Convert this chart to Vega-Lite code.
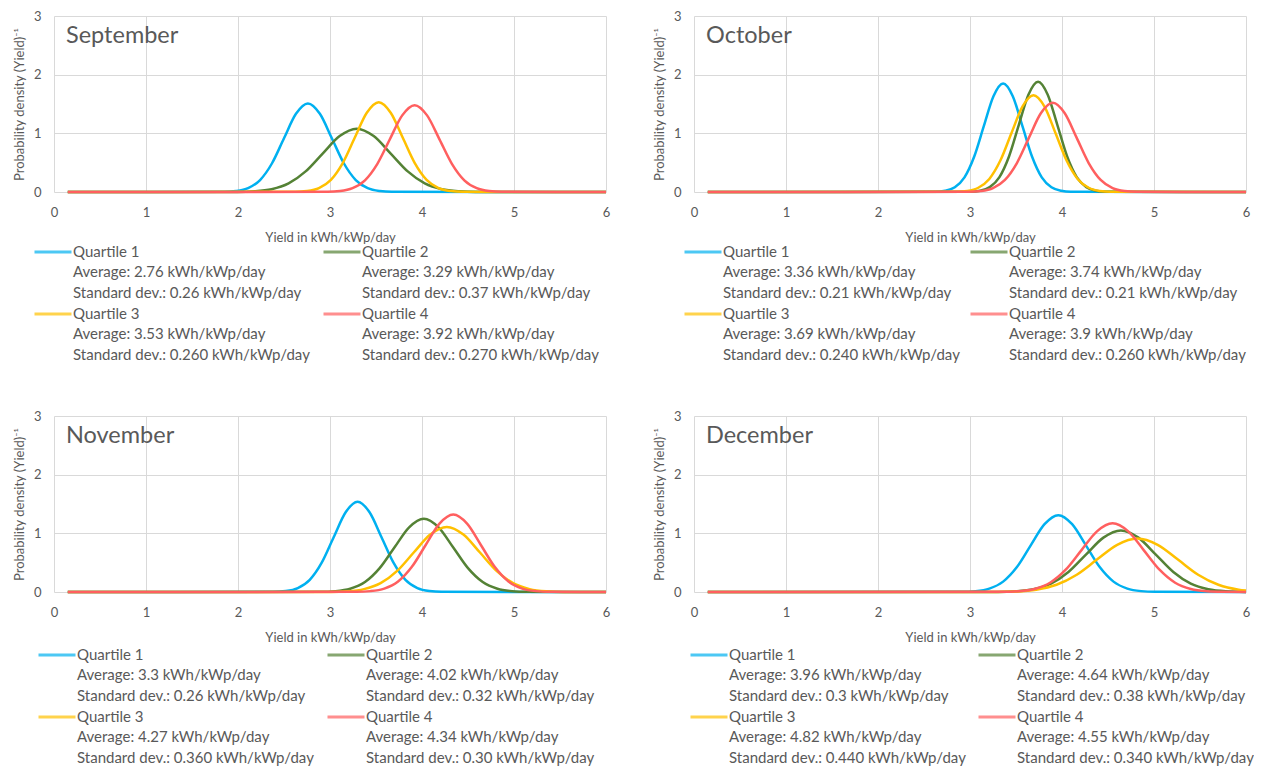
{
  "$schema": "https://vega.github.io/schema/vega-lite/v6.json",
  "padding": {"left": 13, "top": 10, "right": 0, "bottom": 0},
  "background": "white",
  "config": {
    "font": "Lato",
    "view": {"stroke": null},
    "axis": {"domain": false, "ticks": false, "gridColor": "#D9D9D9", "gridWidth": 1, "labelColor": "#595959", "titleColor": "#595959", "labelFont": "Lato", "titleFont": "Lato", "labelFontSize": 13, "titleFontSize": 13, "titleFontWeight": "normal"},
    "title": {"font": "Lato", "fontSize": 23.5, "fontWeight": "normal", "color": "#595959", "anchor": "start", "frame": "group", "orient": "top", "baseline": "top", "offset": -37, "dx": 12},
    "line": {"interpolate": "monotone", "strokeWidth": 2.5, "clip": true},
    "text": {"font": "Lato", "fontSize": 15, "color": "#595959", "align": "left", "baseline": "alphabetic", "lineBreak": "\n", "lineHeight": 20.4}
  },
  "datasets": {
    "sep": [
      {"q":"Quartile 1","x":0.15,"y":0},{"q":"Quartile 1","x":1.85,"y":0.003},{"q":"Quartile 1","x":1.98,"y":0.017},{"q":"Quartile 1","x":2.11,"y":0.066},{"q":"Quartile 1","x":2.24,"y":0.204},{"q":"Quartile 1","x":2.37,"y":0.49},{"q":"Quartile 1","x":2.5,"y":0.916},{"q":"Quartile 1","x":2.63,"y":1.333},{"q":"Quartile 1","x":2.76,"y":1.51},{"q":"Quartile 1","x":2.89,"y":1.333},{"q":"Quartile 1","x":3.02,"y":0.916},{"q":"Quartile 1","x":3.15,"y":0.49},{"q":"Quartile 1","x":3.28,"y":0.204},{"q":"Quartile 1","x":3.41,"y":0.066},{"q":"Quartile 1","x":3.54,"y":0.017},{"q":"Quartile 1","x":3.67,"y":0.003},{"q":"Quartile 1","x":6,"y":0},
      {"q":"Quartile 2","x":0.15,"y":0},{"q":"Quartile 2","x":1.995,"y":0.002},{"q":"Quartile 2","x":2.18,"y":0.012},{"q":"Quartile 2","x":2.365,"y":0.047},{"q":"Quartile 2","x":2.55,"y":0.146},{"q":"Quartile 2","x":2.735,"y":0.351},{"q":"Quartile 2","x":2.92,"y":0.655},{"q":"Quartile 2","x":3.105,"y":0.953},{"q":"Quartile 2","x":3.29,"y":1.08},{"q":"Quartile 2","x":3.475,"y":0.953},{"q":"Quartile 2","x":3.66,"y":0.655},{"q":"Quartile 2","x":3.845,"y":0.351},{"q":"Quartile 2","x":4.03,"y":0.146},{"q":"Quartile 2","x":4.215,"y":0.047},{"q":"Quartile 2","x":4.4,"y":0.012},{"q":"Quartile 2","x":4.585,"y":0.002},{"q":"Quartile 2","x":6,"y":0},
      {"q":"Quartile 3","x":0.15,"y":0},{"q":"Quartile 3","x":2.62,"y":0.003},{"q":"Quartile 3","x":2.75,"y":0.017},{"q":"Quartile 3","x":2.88,"y":0.067},{"q":"Quartile 3","x":3.01,"y":0.207},{"q":"Quartile 3","x":3.14,"y":0.497},{"q":"Quartile 3","x":3.27,"y":0.928},{"q":"Quartile 3","x":3.4,"y":1.35},{"q":"Quartile 3","x":3.53,"y":1.53},{"q":"Quartile 3","x":3.66,"y":1.35},{"q":"Quartile 3","x":3.79,"y":0.928},{"q":"Quartile 3","x":3.92,"y":0.497},{"q":"Quartile 3","x":4.05,"y":0.207},{"q":"Quartile 3","x":4.18,"y":0.067},{"q":"Quartile 3","x":4.31,"y":0.017},{"q":"Quartile 3","x":4.44,"y":0.003},{"q":"Quartile 3","x":6,"y":0},
      {"q":"Quartile 4","x":0.15,"y":0},{"q":"Quartile 4","x":2.975,"y":0.003},{"q":"Quartile 4","x":3.11,"y":0.016},{"q":"Quartile 4","x":3.245,"y":0.065},{"q":"Quartile 4","x":3.38,"y":0.2},{"q":"Quartile 4","x":3.515,"y":0.481},{"q":"Quartile 4","x":3.65,"y":0.898},{"q":"Quartile 4","x":3.785,"y":1.306},{"q":"Quartile 4","x":3.92,"y":1.48},{"q":"Quartile 4","x":4.055,"y":1.306},{"q":"Quartile 4","x":4.19,"y":0.898},{"q":"Quartile 4","x":4.325,"y":0.481},{"q":"Quartile 4","x":4.46,"y":0.2},{"q":"Quartile 4","x":4.595,"y":0.065},{"q":"Quartile 4","x":4.73,"y":0.016},{"q":"Quartile 4","x":4.865,"y":0.003},{"q":"Quartile 4","x":6,"y":0}
    ],
    "oct": [
      {"q":"Quartile 1","x":0.15,"y":0},{"q":"Quartile 1","x":2.625,"y":0.004},{"q":"Quartile 1","x":2.73,"y":0.021},{"q":"Quartile 1","x":2.835,"y":0.081},{"q":"Quartile 1","x":2.94,"y":0.25},{"q":"Quartile 1","x":3.045,"y":0.601},{"q":"Quartile 1","x":3.15,"y":1.122},{"q":"Quartile 1","x":3.255,"y":1.633},{"q":"Quartile 1","x":3.36,"y":1.85},{"q":"Quartile 1","x":3.465,"y":1.633},{"q":"Quartile 1","x":3.57,"y":1.122},{"q":"Quartile 1","x":3.675,"y":0.601},{"q":"Quartile 1","x":3.78,"y":0.25},{"q":"Quartile 1","x":3.885,"y":0.081},{"q":"Quartile 1","x":3.99,"y":0.021},{"q":"Quartile 1","x":4.095,"y":0.004},{"q":"Quartile 1","x":6,"y":0},
      {"q":"Quartile 2","x":0.15,"y":0},{"q":"Quartile 2","x":3.005,"y":0.004},{"q":"Quartile 2","x":3.11,"y":0.021},{"q":"Quartile 2","x":3.215,"y":0.083},{"q":"Quartile 2","x":3.32,"y":0.254},{"q":"Quartile 2","x":3.425,"y":0.61},{"q":"Quartile 2","x":3.53,"y":1.14},{"q":"Quartile 2","x":3.635,"y":1.659},{"q":"Quartile 2","x":3.74,"y":1.88},{"q":"Quartile 2","x":3.845,"y":1.659},{"q":"Quartile 2","x":3.95,"y":1.14},{"q":"Quartile 2","x":4.055,"y":0.61},{"q":"Quartile 2","x":4.16,"y":0.254},{"q":"Quartile 2","x":4.265,"y":0.083},{"q":"Quartile 2","x":4.37,"y":0.021},{"q":"Quartile 2","x":4.475,"y":0.004},{"q":"Quartile 2","x":6,"y":0},
      {"q":"Quartile 3","x":0.15,"y":0},{"q":"Quartile 3","x":2.85,"y":0.004},{"q":"Quartile 3","x":2.97,"y":0.018},{"q":"Quartile 3","x":3.09,"y":0.072},{"q":"Quartile 3","x":3.21,"y":0.223},{"q":"Quartile 3","x":3.33,"y":0.536},{"q":"Quartile 3","x":3.45,"y":1.001},{"q":"Quartile 3","x":3.57,"y":1.456},{"q":"Quartile 3","x":3.69,"y":1.65},{"q":"Quartile 3","x":3.81,"y":1.456},{"q":"Quartile 3","x":3.93,"y":1.001},{"q":"Quartile 3","x":4.05,"y":0.536},{"q":"Quartile 3","x":4.17,"y":0.223},{"q":"Quartile 3","x":4.29,"y":0.072},{"q":"Quartile 3","x":4.41,"y":0.018},{"q":"Quartile 3","x":4.53,"y":0.004},{"q":"Quartile 3","x":6,"y":0},
      {"q":"Quartile 4","x":0.15,"y":0},{"q":"Quartile 4","x":2.99,"y":0.003},{"q":"Quartile 4","x":3.12,"y":0.017},{"q":"Quartile 4","x":3.25,"y":0.067},{"q":"Quartile 4","x":3.38,"y":0.206},{"q":"Quartile 4","x":3.51,"y":0.494},{"q":"Quartile 4","x":3.64,"y":0.922},{"q":"Quartile 4","x":3.77,"y":1.341},{"q":"Quartile 4","x":3.9,"y":1.52},{"q":"Quartile 4","x":4.03,"y":1.341},{"q":"Quartile 4","x":4.16,"y":0.922},{"q":"Quartile 4","x":4.29,"y":0.494},{"q":"Quartile 4","x":4.42,"y":0.206},{"q":"Quartile 4","x":4.55,"y":0.067},{"q":"Quartile 4","x":4.68,"y":0.017},{"q":"Quartile 4","x":4.81,"y":0.003},{"q":"Quartile 4","x":6,"y":0}
    ],
    "nov": [
      {"q":"Quartile 1","x":0.15,"y":0},{"q":"Quartile 1","x":2.39,"y":0.003},{"q":"Quartile 1","x":2.52,"y":0.017},{"q":"Quartile 1","x":2.65,"y":0.068},{"q":"Quartile 1","x":2.78,"y":0.208},{"q":"Quartile 1","x":2.91,"y":0.5},{"q":"Quartile 1","x":3.04,"y":0.934},{"q":"Quartile 1","x":3.17,"y":1.359},{"q":"Quartile 1","x":3.3,"y":1.54},{"q":"Quartile 1","x":3.43,"y":1.359},{"q":"Quartile 1","x":3.56,"y":0.934},{"q":"Quartile 1","x":3.69,"y":0.5},{"q":"Quartile 1","x":3.82,"y":0.208},{"q":"Quartile 1","x":3.95,"y":0.068},{"q":"Quartile 1","x":4.08,"y":0.017},{"q":"Quartile 1","x":4.21,"y":0.003},{"q":"Quartile 1","x":6,"y":0},
      {"q":"Quartile 2","x":0.15,"y":0},{"q":"Quartile 2","x":2.9,"y":0.003},{"q":"Quartile 2","x":3.06,"y":0.014},{"q":"Quartile 2","x":3.22,"y":0.055},{"q":"Quartile 2","x":3.38,"y":0.169},{"q":"Quartile 2","x":3.54,"y":0.406},{"q":"Quartile 2","x":3.7,"y":0.758},{"q":"Quartile 2","x":3.86,"y":1.103},{"q":"Quartile 2","x":4.02,"y":1.25},{"q":"Quartile 2","x":4.18,"y":1.103},{"q":"Quartile 2","x":4.34,"y":0.758},{"q":"Quartile 2","x":4.5,"y":0.406},{"q":"Quartile 2","x":4.66,"y":0.169},{"q":"Quartile 2","x":4.82,"y":0.055},{"q":"Quartile 2","x":4.98,"y":0.014},{"q":"Quartile 2","x":5.14,"y":0.003},{"q":"Quartile 2","x":6,"y":0},
      {"q":"Quartile 3","x":0.15,"y":0},{"q":"Quartile 3","x":3.01,"y":0.002},{"q":"Quartile 3","x":3.19,"y":0.012},{"q":"Quartile 3","x":3.37,"y":0.049},{"q":"Quartile 3","x":3.55,"y":0.15},{"q":"Quartile 3","x":3.73,"y":0.36},{"q":"Quartile 3","x":3.91,"y":0.673},{"q":"Quartile 3","x":4.09,"y":0.98},{"q":"Quartile 3","x":4.27,"y":1.11},{"q":"Quartile 3","x":4.45,"y":0.98},{"q":"Quartile 3","x":4.63,"y":0.673},{"q":"Quartile 3","x":4.81,"y":0.36},{"q":"Quartile 3","x":4.99,"y":0.15},{"q":"Quartile 3","x":5.17,"y":0.049},{"q":"Quartile 3","x":5.35,"y":0.012},{"q":"Quartile 3","x":5.53,"y":0.002},{"q":"Quartile 3","x":6,"y":0},
      {"q":"Quartile 4","x":0.15,"y":0},{"q":"Quartile 4","x":3.29,"y":0.003},{"q":"Quartile 4","x":3.44,"y":0.015},{"q":"Quartile 4","x":3.59,"y":0.058},{"q":"Quartile 4","x":3.74,"y":0.179},{"q":"Quartile 4","x":3.89,"y":0.429},{"q":"Quartile 4","x":4.04,"y":0.801},{"q":"Quartile 4","x":4.19,"y":1.165},{"q":"Quartile 4","x":4.34,"y":1.32},{"q":"Quartile 4","x":4.49,"y":1.165},{"q":"Quartile 4","x":4.64,"y":0.801},{"q":"Quartile 4","x":4.79,"y":0.429},{"q":"Quartile 4","x":4.94,"y":0.179},{"q":"Quartile 4","x":5.09,"y":0.058},{"q":"Quartile 4","x":5.24,"y":0.015},{"q":"Quartile 4","x":5.39,"y":0.003},{"q":"Quartile 4","x":6,"y":0}
    ],
    "dec": [
      {"q":"Quartile 1","x":0.15,"y":0},{"q":"Quartile 1","x":2.91,"y":0.003},{"q":"Quartile 1","x":3.06,"y":0.015},{"q":"Quartile 1","x":3.21,"y":0.058},{"q":"Quartile 1","x":3.36,"y":0.177},{"q":"Quartile 1","x":3.51,"y":0.425},{"q":"Quartile 1","x":3.66,"y":0.795},{"q":"Quartile 1","x":3.81,"y":1.156},{"q":"Quartile 1","x":3.96,"y":1.31},{"q":"Quartile 1","x":4.11,"y":1.156},{"q":"Quartile 1","x":4.26,"y":0.795},{"q":"Quartile 1","x":4.41,"y":0.425},{"q":"Quartile 1","x":4.56,"y":0.177},{"q":"Quartile 1","x":4.71,"y":0.058},{"q":"Quartile 1","x":4.86,"y":0.015},{"q":"Quartile 1","x":5.01,"y":0.003},{"q":"Quartile 1","x":6,"y":0},
      {"q":"Quartile 2","x":0.15,"y":0},{"q":"Quartile 2","x":3.31,"y":0.002},{"q":"Quartile 2","x":3.5,"y":0.012},{"q":"Quartile 2","x":3.69,"y":0.046},{"q":"Quartile 2","x":3.88,"y":0.142},{"q":"Quartile 2","x":4.07,"y":0.341},{"q":"Quartile 2","x":4.26,"y":0.637},{"q":"Quartile 2","x":4.45,"y":0.927},{"q":"Quartile 2","x":4.64,"y":1.05},{"q":"Quartile 2","x":4.83,"y":0.927},{"q":"Quartile 2","x":5.02,"y":0.637},{"q":"Quartile 2","x":5.21,"y":0.341},{"q":"Quartile 2","x":5.4,"y":0.142},{"q":"Quartile 2","x":5.59,"y":0.046},{"q":"Quartile 2","x":5.78,"y":0.012},{"q":"Quartile 2","x":6,"y":0.002},
      {"q":"Quartile 3","x":0.15,"y":0},{"q":"Quartile 3","x":3.28,"y":0.002},{"q":"Quartile 3","x":3.5,"y":0.01},{"q":"Quartile 3","x":3.72,"y":0.04},{"q":"Quartile 3","x":3.94,"y":0.123},{"q":"Quartile 3","x":4.16,"y":0.295},{"q":"Quartile 3","x":4.38,"y":0.552},{"q":"Quartile 3","x":4.6,"y":0.803},{"q":"Quartile 3","x":4.82,"y":0.91},{"q":"Quartile 3","x":5.04,"y":0.803},{"q":"Quartile 3","x":5.26,"y":0.552},{"q":"Quartile 3","x":5.48,"y":0.295},{"q":"Quartile 3","x":5.7,"y":0.123},{"q":"Quartile 3","x":5.92,"y":0.04},{"q":"Quartile 3","x":6,"y":0.025},
      {"q":"Quartile 4","x":0.15,"y":0},{"q":"Quartile 4","x":3.36,"y":0.003},{"q":"Quartile 4","x":3.53,"y":0.013},{"q":"Quartile 4","x":3.7,"y":0.051},{"q":"Quartile 4","x":3.87,"y":0.158},{"q":"Quartile 4","x":4.04,"y":0.38},{"q":"Quartile 4","x":4.21,"y":0.71},{"q":"Quartile 4","x":4.38,"y":1.033},{"q":"Quartile 4","x":4.55,"y":1.17},{"q":"Quartile 4","x":4.72,"y":1.033},{"q":"Quartile 4","x":4.89,"y":0.71},{"q":"Quartile 4","x":5.06,"y":0.38},{"q":"Quartile 4","x":5.23,"y":0.158},{"q":"Quartile 4","x":5.4,"y":0.051},{"q":"Quartile 4","x":5.57,"y":0.013},{"q":"Quartile 4","x":5.74,"y":0.003},{"q":"Quartile 4","x":6,"y":0}
    ],
    "sepLeg": [
      {"q":"Quartile 1","label":"Quartile 1\nAverage: 2.76 kWh/kWp/day\nStandard dev.: 0.26 kWh/kWp/day"},
      {"q":"Quartile 2","label":"Quartile 2\nAverage: 3.29 kWh/kWp/day\nStandard dev.: 0.37 kWh/kWp/day"},
      {"q":"Quartile 3","label":"Quartile 3\nAverage: 3.53 kWh/kWp/day\nStandard dev.: 0.260 kWh/kWp/day"},
      {"q":"Quartile 4","label":"Quartile 4\nAverage: 3.92 kWh/kWp/day\nStandard dev.: 0.270 kWh/kWp/day"}
    ],
    "octLeg": [
      {"q":"Quartile 1","label":"Quartile 1\nAverage: 3.36 kWh/kWp/day\nStandard dev.: 0.21 kWh/kWp/day"},
      {"q":"Quartile 2","label":"Quartile 2\nAverage: 3.74 kWh/kWp/day\nStandard dev.: 0.21 kWh/kWp/day"},
      {"q":"Quartile 3","label":"Quartile 3\nAverage: 3.69 kWh/kWp/day\nStandard dev.: 0.240 kWh/kWp/day"},
      {"q":"Quartile 4","label":"Quartile 4\nAverage: 3.9 kWh/kWp/day\nStandard dev.: 0.260 kWh/kWp/day"}
    ],
    "novLeg": [
      {"q":"Quartile 1","label":"Quartile 1\nAverage: 3.3 kWh/kWp/day\nStandard dev.: 0.26 kWh/kWp/day"},
      {"q":"Quartile 2","label":"Quartile 2\nAverage: 4.02 kWh/kWp/day\nStandard dev.: 0.32 kWh/kWp/day"},
      {"q":"Quartile 3","label":"Quartile 3\nAverage: 4.27 kWh/kWp/day\nStandard dev.: 0.360 kWh/kWp/day"},
      {"q":"Quartile 4","label":"Quartile 4\nAverage: 4.34 kWh/kWp/day\nStandard dev.: 0.30 kWh/kWp/day"}
    ],
    "decLeg": [
      {"q":"Quartile 1","label":"Quartile 1\nAverage: 3.96 kWh/kWp/day\nStandard dev.: 0.3 kWh/kWp/day"},
      {"q":"Quartile 2","label":"Quartile 2\nAverage: 4.64 kWh/kWp/day\nStandard dev.: 0.38 kWh/kWp/day"},
      {"q":"Quartile 3","label":"Quartile 3\nAverage: 4.82 kWh/kWp/day\nStandard dev.: 0.440 kWh/kWp/day"},
      {"q":"Quartile 4","label":"Quartile 4\nAverage: 4.55 kWh/kWp/day\nStandard dev.: 0.340 kWh/kWp/day"}
    ]
  },
  "columns": 2,
  "spacing": {"row": 40, "column": 88},
  "bounds": "flush",
  "concat": [
    {
      "title": "September", "width": 552, "height": 176, "data": {"name": "sep"},
      "mark": "line",
      "encoding": {
        "x": {"field": "x", "type": "quantitative", "scale": {"domain": [0, 6], "nice": false}, "axis": {"values": [0,1,2,3,4,5,6], "title": "Yield in kWh/kWp/day", "labelPadding": 14, "titlePadding": 12, "labelFlush": false}},
        "y": {"field": "y", "type": "quantitative", "scale": {"domain": [0, 3], "nice": false}, "axis": {"values": [0,1,2,3], "title": "Probability density (Yield)⁻¹", "labelPadding": 13, "titlePadding": 7}},
        "color": {"field": "q", "type": "nominal", "scale": {"domain": ["Quartile 1","Quartile 2","Quartile 3","Quartile 4"], "range": ["#00B0F0","#548235","#FFC000","#FF5F5F"]}, "legend": null}
      }
    },
    {
      "title": "October", "width": 552, "height": 176, "data": {"name": "oct"},
      "mark": "line",
      "encoding": {
        "x": {"field": "x", "type": "quantitative", "scale": {"domain": [0, 6], "nice": false}, "axis": {"values": [0,1,2,3,4,5,6], "title": "Yield in kWh/kWp/day", "labelPadding": 14, "titlePadding": 12, "labelFlush": false}},
        "y": {"field": "y", "type": "quantitative", "scale": {"domain": [0, 3], "nice": false}, "axis": {"values": [0,1,2,3], "title": "Probability density (Yield)⁻¹", "labelPadding": 13, "titlePadding": 7}},
        "color": {"field": "q", "type": "nominal", "scale": {"domain": ["Quartile 1","Quartile 2","Quartile 3","Quartile 4"], "range": ["#00B0F0","#548235","#FFC000","#FF5F5F"]}, "legend": null}
      }
    },
    {
      "width": 552, "height": 144, "data": {"name": "sepLeg"},
      "layer": [
        {
          "transform": [{"filter": {"field": "q", "oneOf": ["Quartile 1","Quartile 2"]}}],
          "encoding": {
            "x": {"field": "q", "type": "nominal", "scale": {"type": "point", "domain": ["Quartile 1","Quartile 2"], "range": [19, 308], "padding": 0}, "axis": null},
            "color": {"field": "q", "type": "nominal", "scale": {"domain": ["Quartile 1","Quartile 2","Quartile 3","Quartile 4"], "range": ["#00B0F0","#548235","#FFC000","#FF5F5F"]}, "legend": null}
          },
          "layer": [
            {"mark": {"type": "tick", "orient": "horizontal", "size": 37, "thickness": 3, "xOffset": -20}, "encoding": {"y": {"datum": 20, "type": "quantitative", "scale": {"domain": [0, 144], "reverse": true, "nice": false, "zero": false}, "axis": null}}},
            {"mark": "text", "encoding": {"y": {"datum": 25, "type": "quantitative"}, "text": {"field": "label"}, "color": {"value": "#595959"}}}
          ]
        },
        {
          "transform": [{"filter": {"field": "q", "oneOf": ["Quartile 3","Quartile 4"]}}],
          "encoding": {
            "x": {"field": "q", "type": "nominal", "scale": {"type": "point", "domain": ["Quartile 3","Quartile 4"], "range": [19, 308], "padding": 0}, "axis": null},
            "color": {"field": "q", "type": "nominal", "scale": {"domain": ["Quartile 1","Quartile 2","Quartile 3","Quartile 4"], "range": ["#00B0F0","#548235","#FFC000","#FF5F5F"]}, "legend": null}
          },
          "layer": [
            {"mark": {"type": "tick", "orient": "horizontal", "size": 37, "thickness": 3, "xOffset": -20}, "encoding": {"y": {"datum": 82, "type": "quantitative"}}},
            {"mark": "text", "encoding": {"y": {"datum": 87, "type": "quantitative"}, "text": {"field": "label"}, "color": {"value": "#595959"}}}
          ]
        }
      ],
      "resolve": {"scale": {"x": "independent"}}
    },
    {
      "width": 552, "height": 144, "data": {"name": "octLeg"},
      "layer": [
        {
          "transform": [{"filter": {"field": "q", "oneOf": ["Quartile 1","Quartile 2"]}}],
          "encoding": {
            "x": {"field": "q", "type": "nominal", "scale": {"type": "point", "domain": ["Quartile 1","Quartile 2"], "range": [29, 315], "padding": 0}, "axis": null},
            "color": {"field": "q", "type": "nominal", "scale": {"domain": ["Quartile 1","Quartile 2","Quartile 3","Quartile 4"], "range": ["#00B0F0","#548235","#FFC000","#FF5F5F"]}, "legend": null}
          },
          "layer": [
            {"mark": {"type": "tick", "orient": "horizontal", "size": 37, "thickness": 3, "xOffset": -20}, "encoding": {"y": {"datum": 20, "type": "quantitative", "scale": {"domain": [0, 144], "reverse": true, "nice": false, "zero": false}, "axis": null}}},
            {"mark": "text", "encoding": {"y": {"datum": 25, "type": "quantitative"}, "text": {"field": "label"}, "color": {"value": "#595959"}}}
          ]
        },
        {
          "transform": [{"filter": {"field": "q", "oneOf": ["Quartile 3","Quartile 4"]}}],
          "encoding": {
            "x": {"field": "q", "type": "nominal", "scale": {"type": "point", "domain": ["Quartile 3","Quartile 4"], "range": [29, 315], "padding": 0}, "axis": null},
            "color": {"field": "q", "type": "nominal", "scale": {"domain": ["Quartile 1","Quartile 2","Quartile 3","Quartile 4"], "range": ["#00B0F0","#548235","#FFC000","#FF5F5F"]}, "legend": null}
          },
          "layer": [
            {"mark": {"type": "tick", "orient": "horizontal", "size": 37, "thickness": 3, "xOffset": -20}, "encoding": {"y": {"datum": 82, "type": "quantitative"}}},
            {"mark": "text", "encoding": {"y": {"datum": 87, "type": "quantitative"}, "text": {"field": "label"}, "color": {"value": "#595959"}}}
          ]
        }
      ],
      "resolve": {"scale": {"x": "independent"}}
    },
    {
      "title": "November", "width": 552, "height": 176, "data": {"name": "nov"},
      "mark": "line",
      "encoding": {
        "x": {"field": "x", "type": "quantitative", "scale": {"domain": [0, 6], "nice": false}, "axis": {"values": [0,1,2,3,4,5,6], "title": "Yield in kWh/kWp/day", "labelPadding": 14, "titlePadding": 12, "labelFlush": false}},
        "y": {"field": "y", "type": "quantitative", "scale": {"domain": [0, 3], "nice": false}, "axis": {"values": [0,1,2,3], "title": "Probability density (Yield)⁻¹", "labelPadding": 13, "titlePadding": 7}},
        "color": {"field": "q", "type": "nominal", "scale": {"domain": ["Quartile 1","Quartile 2","Quartile 3","Quartile 4"], "range": ["#00B0F0","#548235","#FFC000","#FF5F5F"]}, "legend": null}
      }
    },
    {
      "title": "December", "width": 552, "height": 176, "data": {"name": "dec"},
      "mark": "line",
      "encoding": {
        "x": {"field": "x", "type": "quantitative", "scale": {"domain": [0, 6], "nice": false}, "axis": {"values": [0,1,2,3,4,5,6], "title": "Yield in kWh/kWp/day", "labelPadding": 14, "titlePadding": 12, "labelFlush": false}},
        "y": {"field": "y", "type": "quantitative", "scale": {"domain": [0, 3], "nice": false}, "axis": {"values": [0,1,2,3], "title": "Probability density (Yield)⁻¹", "labelPadding": 13, "titlePadding": 7}},
        "color": {"field": "q", "type": "nominal", "scale": {"domain": ["Quartile 1","Quartile 2","Quartile 3","Quartile 4"], "range": ["#00B0F0","#548235","#FFC000","#FF5F5F"]}, "legend": null}
      }
    },
    {
      "width": 552, "height": 144, "data": {"name": "novLeg"},
      "layer": [
        {
          "transform": [{"filter": {"field": "q", "oneOf": ["Quartile 1","Quartile 2"]}}],
          "encoding": {
            "x": {"field": "q", "type": "nominal", "scale": {"type": "point", "domain": ["Quartile 1","Quartile 2"], "range": [23, 312], "padding": 0}, "axis": null},
            "color": {"field": "q", "type": "nominal", "scale": {"domain": ["Quartile 1","Quartile 2","Quartile 3","Quartile 4"], "range": ["#00B0F0","#548235","#FFC000","#FF5F5F"]}, "legend": null}
          },
          "layer": [
            {"mark": {"type": "tick", "orient": "horizontal", "size": 37, "thickness": 3, "xOffset": -20}, "encoding": {"y": {"datum": 23, "type": "quantitative", "scale": {"domain": [0, 144], "reverse": true, "nice": false, "zero": false}, "axis": null}}},
            {"mark": "text", "encoding": {"y": {"datum": 28, "type": "quantitative"}, "text": {"field": "label"}, "color": {"value": "#595959"}}}
          ]
        },
        {
          "transform": [{"filter": {"field": "q", "oneOf": ["Quartile 3","Quartile 4"]}}],
          "encoding": {
            "x": {"field": "q", "type": "nominal", "scale": {"type": "point", "domain": ["Quartile 3","Quartile 4"], "range": [23, 312], "padding": 0}, "axis": null},
            "color": {"field": "q", "type": "nominal", "scale": {"domain": ["Quartile 1","Quartile 2","Quartile 3","Quartile 4"], "range": ["#00B0F0","#548235","#FFC000","#FF5F5F"]}, "legend": null}
          },
          "layer": [
            {"mark": {"type": "tick", "orient": "horizontal", "size": 37, "thickness": 3, "xOffset": -20}, "encoding": {"y": {"datum": 85, "type": "quantitative"}}},
            {"mark": "text", "encoding": {"y": {"datum": 90, "type": "quantitative"}, "text": {"field": "label"}, "color": {"value": "#595959"}}}
          ]
        }
      ],
      "resolve": {"scale": {"x": "independent"}}
    },
    {
      "width": 552, "height": 144, "data": {"name": "decLeg"},
      "layer": [
        {
          "transform": [{"filter": {"field": "q", "oneOf": ["Quartile 1","Quartile 2"]}}],
          "encoding": {
            "x": {"field": "q", "type": "nominal", "scale": {"type": "point", "domain": ["Quartile 1","Quartile 2"], "range": [35, 323], "padding": 0}, "axis": null},
            "color": {"field": "q", "type": "nominal", "scale": {"domain": ["Quartile 1","Quartile 2","Quartile 3","Quartile 4"], "range": ["#00B0F0","#548235","#FFC000","#FF5F5F"]}, "legend": null}
          },
          "layer": [
            {"mark": {"type": "tick", "orient": "horizontal", "size": 37, "thickness": 3, "xOffset": -20}, "encoding": {"y": {"datum": 23, "type": "quantitative", "scale": {"domain": [0, 144], "reverse": true, "nice": false, "zero": false}, "axis": null}}},
            {"mark": "text", "encoding": {"y": {"datum": 28, "type": "quantitative"}, "text": {"field": "label"}, "color": {"value": "#595959"}}}
          ]
        },
        {
          "transform": [{"filter": {"field": "q", "oneOf": ["Quartile 3","Quartile 4"]}}],
          "encoding": {
            "x": {"field": "q", "type": "nominal", "scale": {"type": "point", "domain": ["Quartile 3","Quartile 4"], "range": [35, 323], "padding": 0}, "axis": null},
            "color": {"field": "q", "type": "nominal", "scale": {"domain": ["Quartile 1","Quartile 2","Quartile 3","Quartile 4"], "range": ["#00B0F0","#548235","#FFC000","#FF5F5F"]}, "legend": null}
          },
          "layer": [
            {"mark": {"type": "tick", "orient": "horizontal", "size": 37, "thickness": 3, "xOffset": -20}, "encoding": {"y": {"datum": 85, "type": "quantitative"}}},
            {"mark": "text", "encoding": {"y": {"datum": 90, "type": "quantitative"}, "text": {"field": "label"}, "color": {"value": "#595959"}}}
          ]
        }
      ],
      "resolve": {"scale": {"x": "independent"}}
    }
  ]
}
